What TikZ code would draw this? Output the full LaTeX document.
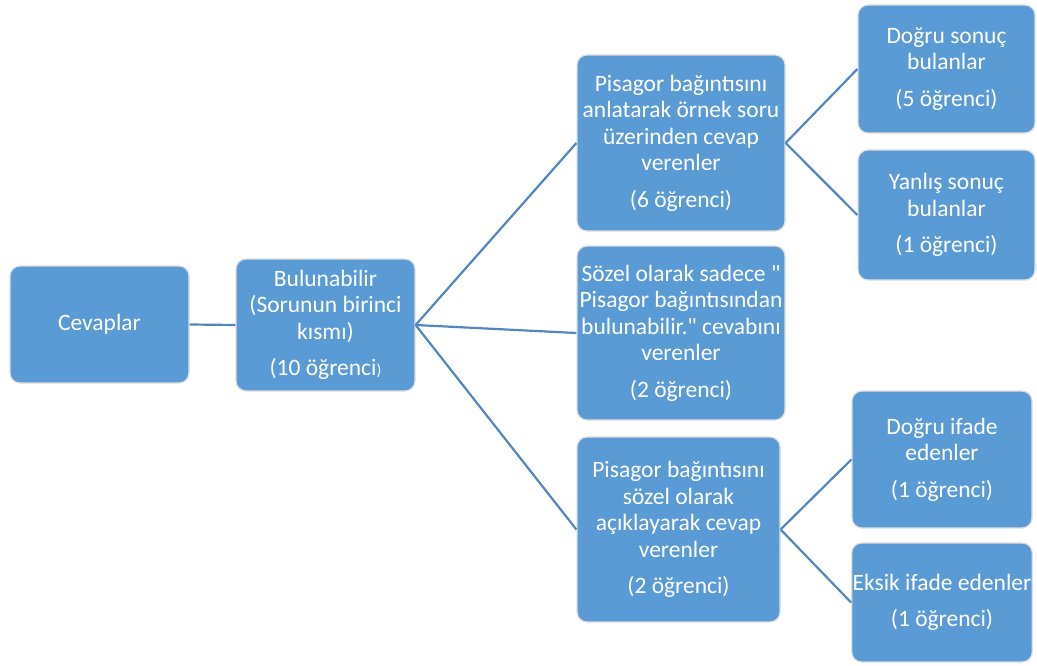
\documentclass[tikz,border=0pt]{standalone}
\usepackage{fontspec}
\setmainfont{Carlito}
% same face without the TeX quote mapping, for straight double quotes
\newfontfamily\straightq{Carlito}
\definecolor{boxfill}{HTML}{5B9BD5}
\definecolor{linkcol}{HTML}{5585C0}
\begin{document}
\begin{tikzpicture}[x=1pt,y=-1pt,
  box/.style={rounded corners=10pt, fill=boxfill, draw=black!13, line width=1.2pt,
    text=white, align=center, inner sep=1pt,
    font=\fontsize{23.5}{26.5}\selectfont},
  link/.style={draw=linkcol, line width=2.2pt}]
\useasboundingbox (0,0) rectangle (1037,666);

\node[box, minimum width=179pt, minimum height=117pt] (cev) at (99.5,324.5) {Cevaplar};
\node[box, minimum width=179pt, minimum height=132pt] (bul) at (325.5,325)
  {Bulunabilir\\(Sorunun birinci\\kısmı)\\[10pt](10 öğrenci{\fontsize{16}{16}\selectfont)}};
\node[box, minimum width=208pt, minimum height=176pt] (p1) at (681,143)
  {Pisagor bağıntısını\\anlatarak örnek soru\\üzerinden cevap\\verenler\\[10pt](6 öğrenci)};
\node[box, minimum width=208pt, minimum height=174pt] (soz) at (681,333)
  {Sözel olarak sadece {\straightq"}\\Pisagor bağıntısından\\bulunabilir.{\straightq"} cevabını\\verenler\\[10pt](2 öğrenci)};
\node[box, minimum width=203pt, minimum height=185pt] (p2) at (678.5,529.5)
  {Pisagor bağıntısını\\sözel olarak\\açıklayarak cevap\\verenler\\[10pt](2 öğrenci)};
\node[box, minimum width=177pt, minimum height=128pt] (dsn) at (946.5,69)
  {Doğru sonuç\\bulanlar\\[10pt](5 öğrenci)};
\node[box, minimum width=177pt, minimum height=130pt] (yan) at (946.5,215)
  {Yanlış sonuç\\bulanlar\\[10pt](1 öğrenci)};
\node[box, minimum width=180pt, minimum height=137pt] (dif) at (942,459.5)
  {Doğru ifade\\edenler\\[10pt](1 öğrenci)};
\node[box, minimum width=180pt, minimum height=119pt] (eks) at (942,602.5)
  {Eksik ifade edenler\\[10pt](1 öğrenci)};

\draw[link] (cev.east) -- (bul.west);
\draw[link] (bul.east) -- (p1.west);
\draw[link] (bul.east) -- (soz.west);
\draw[link] (bul.east) -- (p2.west);
\draw[link] (p1.east) -- (dsn.west);
\draw[link] (p1.east) -- (yan.west);
\draw[link] (p2.east) -- (dif.west);
\draw[link] (p2.east) -- (eks.west);
\end{tikzpicture}
\end{document}
